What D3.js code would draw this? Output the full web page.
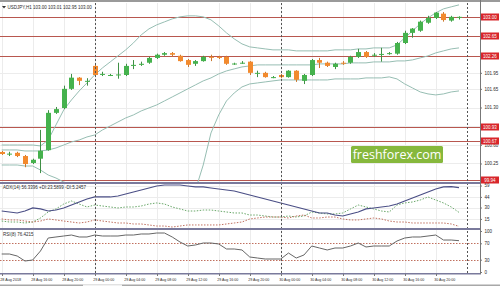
<!DOCTYPE html>
<meta charset="utf-8">
<style>
  body { margin: 0; background: #fff; }
  svg { display: block; font-family: "Liberation Sans", Arial, sans-serif; }
</style>
<body>
<div id="chart"></div>
<script src="https://d3js.org/d3.v7.min.js"></script>
<script>
// ---- data (USDJPY H1) ----
var timeLabels = ["28 Aug 2018", "28 Aug 16:00", "28 Aug 20:00", "29 Aug 00:00", "29 Aug 04:00",
  "29 Aug 08:00", "29 Aug 12:00", "29 Aug 16:00", "29 Aug 20:00", "30 Aug 00:00",
  "30 Aug 04:00", "30 Aug 08:00", "30 Aug 12:00", "30 Aug 16:00", "30 Aug 20:00"];
var labelBars = [0, 4, 8, 12, 16, 20, 24, 28, 32, 36, 40, 44, 48, 52, 56];
var daySeparators = [12, 36, 60];

var open = [100.466, 100.430, 100.450, 100.390, 100.260, 100.340, 100.500, 101.200, 101.290, 101.650,
  101.860, 101.800, 102.080, 101.930, 101.910, 101.910, 101.910, 102.080, 102.100, 102.140,
  102.230, 102.290, 102.320, 102.270, 102.190, 102.120, 102.170, 102.250, 102.250, 102.250,
  102.120, 102.130, 102.160, 101.945, 101.950, 101.870, 101.910, 101.870, 101.990, 101.800,
  101.910, 102.190, 102.140, 102.060, 102.140, 102.140, 102.250, 102.340, 102.280, 102.300,
  102.310, 102.310, 102.510, 102.700, 102.740, 102.890, 102.980, 103.060, 102.930, 103.000];
var high = [100.485, 100.470, 100.470, 100.410, 100.340, 100.880, 101.250, 101.310, 101.710, 101.930,
  101.870, 101.850, 102.100, 101.970, 101.930, 102.140, 102.120, 102.190, 102.160, 102.250,
  102.310, 102.340, 102.340, 102.290, 102.210, 102.190, 102.270, 102.290, 102.270, 102.270,
  102.140, 102.170, 102.170, 101.990, 101.970, 101.890, 101.930, 102.000, 102.000, 101.930,
  102.210, 102.230, 102.160, 102.140, 102.170, 102.270, 102.400, 102.360, 102.320, 102.420,
  102.340, 102.530, 102.740, 102.790, 102.930, 103.020, 103.090, 103.090, 103.020, 103.010];
var low = [100.410, 100.390, 100.370, 100.180, 100.240, 100.070, 100.490, 101.180, 101.270, 101.630,
  101.720, 101.710, 101.890, 101.890, 101.890, 101.840, 101.890, 102.020, 102.080, 102.120,
  102.210, 102.270, 102.250, 102.160, 102.060, 102.080, 102.160, 102.170, 102.210, 102.100,
  102.100, 102.120, 101.910, 101.870, 101.860, 101.850, 101.850, 101.860, 101.780, 101.740,
  101.890, 102.040, 102.060, 102.020, 102.100, 102.120, 102.230, 102.230, 102.250, 102.160,
  102.290, 102.290, 102.490, 102.610, 102.720, 102.870, 102.960, 102.910, 102.910, 102.950];
var close = [100.428, 100.435, 100.390, 100.240, 100.320, 100.490, 101.200, 101.270, 101.650, 101.860,
  101.800, 101.800, 101.910, 101.930, 101.910, 101.920, 102.080, 102.100, 102.120, 102.230,
  102.290, 102.320, 102.290, 102.170, 102.100, 102.170, 102.250, 102.240, 102.230, 102.120,
  102.125, 102.140, 101.950, 101.950, 101.870, 101.870, 101.870, 101.990, 101.820, 101.910,
  102.190, 102.140, 102.080, 102.120, 102.130, 102.250, 102.340, 102.250, 102.290, 102.305,
  102.320, 102.510, 102.700, 102.780, 102.910, 102.980, 103.080, 102.940, 103.000, 103.000];

var bbUpper = [100.597, 100.597, 100.597, 100.597, 100.597, 100.579, 100.691, 100.973, 101.254, 101.442,
  101.611, 101.761, 101.911, 102.043, 102.155, 102.268, 102.381, 102.512, 102.662, 102.775,
  102.850, 102.906, 102.962, 103.000, 103.019, 103.019, 103.000, 102.944, 102.831, 102.700,
  102.587, 102.493, 102.437, 102.418, 102.399, 102.381, 102.381, 102.381, 102.362, 102.362,
  102.362, 102.362, 102.362, 102.381, 102.381, 102.381, 102.399, 102.399, 102.418, 102.418,
  102.418, 102.474, 102.606, 102.737, 102.869, 102.981, 103.075, 103.150, 103.188, 103.225];
var bbMiddle = [100.504, 100.504, 100.504, 100.485, 100.485, 100.485, 100.504, 100.541, 100.597, 100.654,
  100.691, 100.748, 100.785, 100.879, 100.954, 101.029, 101.104, 101.161, 101.236, 101.292,
  101.348, 101.423, 101.498, 101.573, 101.649, 101.724, 101.799, 101.855, 101.930, 101.986,
  102.024, 102.061, 102.080, 102.099, 102.099, 102.099, 102.099, 102.099, 102.099, 102.099,
  102.099, 102.118, 102.118, 102.118, 102.118, 102.137, 102.137, 102.137, 102.155, 102.155,
  102.155, 102.174, 102.174, 102.193, 102.230, 102.268, 102.324, 102.362, 102.399, 102.418];
var bbLower = [100.222, 100.222, 100.222, 100.203, 100.203, 100.128, 100.034, 99.978, 99.903, 99.828,
  99.753, 99.678, 99.622, 99.565, 99.528, 99.490, 99.472, 99.453, 99.434, 99.434,
  99.434, 99.453, 99.472, 99.509, 99.584, 99.753, 100.222, 100.823, 101.161, 101.423,
  101.573, 101.686, 101.742, 101.761, 101.780, 101.799, 101.817, 101.817, 101.817, 101.817,
  101.817, 101.817, 101.817, 101.836, 101.836, 101.836, 101.836, 101.855, 101.855, 101.855,
  101.874, 101.836, 101.742, 101.667, 101.592, 101.555, 101.536, 101.555, 101.592, 101.611];

var adx = [25.4, 24.1, 22.8, 25.4, 29.4, 28.1, 25.4, 26.7, 29.4, 33.3,
  37.3, 41.2, 43.9, 43.9, 43.9, 45.2, 47.8, 50.5, 53.1, 55.7,
  58.4, 59.7, 59.7, 59.7, 58.4, 57.1, 57.1, 55.7, 54.4, 53.1,
  51.8, 49.1, 46.5, 43.9, 41.2, 38.6, 36.0, 33.3, 30.7, 28.1,
  25.4, 22.8, 22.8, 20.1, 18.8, 21.5, 24.1, 28.1, 29.4, 30.7,
  32.0, 34.6, 38.6, 42.6, 46.5, 50.5, 54.4, 57.1, 57.6, 56.3];
var plusDI = [12.2, 10.9, 10.9, 9.6, 10.9, 16.2, 24.1, 28.1, 34.6, 38.6,
  34.6, 30.7, 33.3, 32.0, 30.7, 29.4, 30.7, 30.7, 32.0, 34.6,
  36.0, 34.6, 30.7, 28.1, 25.4, 25.4, 26.7, 26.7, 25.4, 24.1,
  22.8, 22.8, 20.1, 20.1, 18.8, 17.5, 17.5, 18.8, 17.5, 18.8,
  24.1, 22.8, 21.5, 21.5, 22.8, 28.1, 33.3, 30.7, 28.1, 25.4,
  24.1, 33.3, 36.0, 37.3, 39.9, 43.9, 39.9, 36.0, 30.7, 23.6];
var minusDI = [14.9, 13.6, 13.6, 12.2, 10.9, 12.2, 14.9, 13.6, 12.2, 10.9,
  9.6, 10.9, 13.6, 12.2, 10.9, 9.6, 9.6, 8.3, 8.3, 7.0,
  5.6, 5.6, 4.3, 5.6, 7.0, 7.0, 7.0, 7.0, 7.0, 8.3,
  9.6, 10.9, 14.9, 16.2, 17.5, 17.5, 17.5, 16.2, 18.8, 20.1,
  16.2, 16.2, 17.5, 17.5, 14.9, 13.6, 13.6, 14.9, 16.2, 14.9,
  12.2, 10.9, 10.9, 9.6, 9.6, 9.6, 9.6, 9.6, 8.3, 5.2];

var rsi = [43.9, 43.9, 39.0, 26.8, 29.3, 51.2, 82.9, 85.4, 87.8, 90.2,
  85.4, 85.4, 90.2, 87.8, 87.8, 87.8, 90.2, 90.2, 92.7, 92.7,
  95.1, 95.1, 85.4, 73.2, 63.4, 65.9, 70.7, 70.7, 68.3, 56.1,
  56.1, 53.7, 36.6, 34.1, 31.7, 31.7, 31.7, 46.3, 34.1, 41.5,
  63.4, 58.5, 53.7, 58.5, 58.5, 63.4, 70.7, 61.0, 63.4, 63.4,
  63.4, 75.6, 82.9, 85.4, 85.4, 87.8, 90.2, 78.0, 78.0, 76.4];

var levels = [103.00, 102.65, 102.26, 100.93, 100.67, 99.94];
var priceTicks = [101.95, 101.65, 101.30, 100.60, 100.25];
var gridPrices = [101.95, 101.65, 101.30, 100.95, 100.60, 100.25];
var adxTicks = [59, 44, 30, 15];
var rsiTicks = [100, 70, 30, 0];
var rsiLevels = [70, 30];

// ---- layout ----
var W = 500, H = 286, plotRight = 480;
var main = {top: 3, bottom: 182};
var adxP = {top: 184, bottom: 228};
var rsiP = {top: 230, bottom: 273};
var fs = 4.5, ink = "#2a2a2a";

var svg = d3.select("#chart").append("svg").attr("width", W).attr("height", H);

var x = d3.scaleLinear().domain([0, 59]).range([1.7, 459]);
var y = d3.scaleLinear().domain([99.903, 103.26]).range([main.bottom, main.top]);
var yAdx = d3.scaleLinear().domain([3, 61]).range([adxP.bottom, adxP.top]);
var yRsi = d3.scaleLinear().domain([0, 100]).range([272, 231]);

var defs = svg.append("defs");
[["clipMain", main], ["clipAdx", adxP], ["clipRsi", rsiP]].forEach(function(c){
  defs.append("clipPath").attr("id", c[0]).append("rect")
    .attr("x", 0).attr("y", c[1].top).attr("width", plotRight).attr("height", c[1].bottom - c[1].top);
});

// grid
var grid = svg.append("g").attr("stroke", "#ececec").attr("stroke-width", 1);
labelBars.forEach(function(b){
  grid.append("line").attr("x1", Math.round(x(b)) + 0.5).attr("x2", Math.round(x(b)) + 0.5)
    .attr("y1", main.top).attr("y2", rsiP.bottom);
});
gridPrices.forEach(function(v){
  grid.append("line").attr("x1", 0).attr("x2", plotRight)
    .attr("y1", Math.round(y(v)) + 0.5).attr("y2", Math.round(y(v)) + 0.5);
});
adxTicks.forEach(function(v){
  grid.append("line").attr("x1", 0).attr("x2", plotRight)
    .attr("y1", Math.round(yAdx(v)) + 0.5).attr("y2", Math.round(yAdx(v)) + 0.5);
});

// watermark
var wm = svg.append("g");
wm.append("rect").attr("x", 351).attr("y", 146).attr("width", 92).attr("height", 17).attr("rx", 1.5)
  .attr("fill", "#86b83c");
wm.append("text").attr("x", 397).attr("y", 159).attr("text-anchor", "middle")
  .attr("fill", "#fff").attr("font-size", 12.5).attr("font-family", "'Open Sans', sans-serif")
  .text("freshforex.com");

// support / resistance levels
svg.append("g").selectAll("line").data(levels).join("line")
  .attr("x1", 0).attr("x2", plotRight)
  .attr("y1", function(d){ return Math.round(y(d)) + 0.5; })
  .attr("y2", function(d){ return Math.round(y(d)) + 0.5; })
  .attr("stroke", "#b8574f").attr("stroke-width", 1);

// bollinger bands
var gMain = svg.append("g").attr("clip-path", "url(#clipMain)");
[bbUpper, bbMiddle, bbLower].forEach(function(s){
  gMain.append("path").datum(s)
    .attr("d", d3.line().x(function(d, i){ return x(i); }).y(function(d){ return y(d); }))
    .attr("fill", "none").attr("stroke", "#97beb3").attr("stroke-width", 1);
});

// candles
var candles = gMain.append("g").selectAll("g").data(open).join("g");
candles.append("line")
  .attr("x1", function(d, i){ return Math.round(x(i)) + 0.5; })
  .attr("x2", function(d, i){ return Math.round(x(i)) + 0.5; })
  .attr("y1", function(d, i){ return y(high[i]); })
  .attr("y2", function(d, i){ return y(low[i]); })
  .attr("stroke", function(d, i){ return close[i] >= open[i] ? "#3f8f45" : "#c9772e"; });
candles.append("rect")
  .attr("x", function(d, i){ return Math.round(x(i)) - 2; })
  .attr("width", 5)
  .attr("y", function(d, i){ return y(Math.max(open[i], close[i])); })
  .attr("height", function(d, i){ return Math.max(1, Math.abs(y(open[i]) - y(close[i]))); })
  .attr("fill", function(d, i){ return close[i] >= open[i] ? "#45b24d" : "#f28a2e"; });

// ADX panel
var gAdx = svg.append("g").attr("clip-path", "url(#clipAdx)");
var lineAdx = d3.line().x(function(d, i){ return x(i); }).y(function(d){ return yAdx(d); });
gAdx.append("path").datum(plusDI).attr("d", lineAdx).attr("fill", "none")
  .attr("stroke", "#6aa86a").attr("stroke-width", 1).attr("stroke-dasharray", "1.5,1.5");
gAdx.append("path").datum(minusDI).attr("d", lineAdx).attr("fill", "none")
  .attr("stroke", "#c0705f").attr("stroke-width", 1).attr("stroke-dasharray", "1.5,1.5");
gAdx.append("path").datum(adx).attr("d", lineAdx).attr("fill", "none")
  .attr("stroke", "#4b4f86").attr("stroke-width", 1.2);

// RSI panel
var gRsi = svg.append("g").attr("clip-path", "url(#clipRsi)");
rsiLevels.forEach(function(v){
  gRsi.append("line").attr("x1", 0).attr("x2", plotRight)
    .attr("y1", Math.round(yRsi(v)) + 0.5).attr("y2", Math.round(yRsi(v)) + 0.5)
    .attr("stroke", "#c0705f").attr("stroke-dasharray", "1.5,1.5");
});
gRsi.append("path").datum(rsi)
  .attr("d", d3.line().x(function(d, i){ return x(i); }).y(function(d){ return yRsi(d); }))
  .attr("fill", "none").attr("stroke", "#666").attr("stroke-width", 1);

// day separators
daySeparators.forEach(function(b){
  svg.append("line").attr("x1", Math.round(x(b)) + 0.5).attr("x2", Math.round(x(b)) + 0.5)
    .attr("y1", main.top).attr("y2", rsiP.bottom)
    .attr("stroke", "#555").attr("stroke-dasharray", "2,2");
});

// frames
var frame = "#7a7a9c";
svg.append("rect").attr("x", 0).attr("y", 0).attr("width", W).attr("height", 2).attr("fill", "#9a9a9a");
svg.append("rect").attr("x", 0).attr("y", main.bottom).attr("width", plotRight + 1).attr("height", 2).attr("fill", frame);
svg.append("rect").attr("x", 0).attr("y", adxP.bottom).attr("width", plotRight + 1).attr("height", 2).attr("fill", frame);
svg.append("rect").attr("x", 0).attr("y", rsiP.bottom).attr("width", plotRight + 1).attr("height", 1.5).attr("fill", frame);
svg.append("line").attr("x1", plotRight + 0.5).attr("x2", plotRight + 0.5).attr("y1", 0).attr("y2", rsiP.bottom + 1)
  .attr("stroke", "#777");
// tab strip along the bottom edge
svg.append("rect").attr("x", 0).attr("y", 284.5).attr("width", W).attr("height", 1.5).attr("fill", "#a8a8a8");
svg.append("rect").attr("x", 83).attr("y", 284.5).attr("width", 39).attr("height", 1.5).attr("fill", "#f2f2f2");

// axes (right)
function rightAxis(scale, ticks, fmt){
  var g = svg.append("g").attr("transform", "translate(" + plotRight + ",0)");
  g.call(d3.axisRight(scale).tickValues(ticks).tickSize(2).tickPadding(2.5).tickFormat(fmt));
  g.select(".domain").remove();
  g.selectAll("line").attr("stroke", "#777");
  g.selectAll("text").attr("font-size", fs).attr("fill", ink).attr("font-family", "'Liberation Sans', sans-serif");
}
rightAxis(y, priceTicks, d3.format(".2f"));
rightAxis(yAdx, adxTicks, d3.format("d"));
rightAxis(yRsi, rsiTicks, d3.format("d"));

// level price labels
var lab = svg.append("g").selectAll("g").data(levels).join("g")
  .attr("transform", function(d){ return "translate(" + (plotRight + 1) + "," + Math.round(y(d)) + ")"; });
lab.append("rect").attr("x", 0).attr("y", -3.5).attr("width", 18).attr("height", 7).attr("fill", "#d8262b");
lab.append("text").attr("x", 9).attr("y", 1.6).attr("text-anchor", "middle")
  .attr("font-size", fs).attr("fill", "#fff").text(function(d){ return d.toFixed(2); });

// time axis
svg.append("g").selectAll("text").data(labelBars).join("text")
  .attr("x", function(d){ return x(d) - 1.5; }).attr("y", 281)
  .attr("font-size", 4.3).attr("fill", ink)
  .attr("textLength", 21).attr("lengthAdjust", "spacingAndGlyphs")
  .text(function(d, i){ return timeLabels[i]; });
svg.append("g").selectAll("line").data(labelBars).join("line")
  .attr("x1", function(d){ return Math.round(x(d)) + 0.5; })
  .attr("x2", function(d){ return Math.round(x(d)) + 0.5; })
  .attr("y1", rsiP.bottom + 1).attr("y2", rsiP.bottom + 3).attr("stroke", "#777");

// indicator captions
svg.append("path").attr("d", "M2,6 L6,6 L4,8.5 Z").attr("fill", "#333");
svg.append("text").attr("x", 7.5).attr("y", 8.8).attr("font-size", fs).attr("fill", ink)
  .text("USDJPY,H1  103.00 103.01 102.95 103.00");
svg.append("text").attr("x", 3).attr("y", 189.3).attr("font-size", fs).attr("fill", ink)
  .text("ADX(14) 56.3396 +DI:23.5899 -DI:5.2457");
svg.append("text").attr("x", 3).attr("y", 235.8).attr("font-size", fs).attr("fill", ink)
  .text("RSI(8) 76.4215");
</script>
</body>
